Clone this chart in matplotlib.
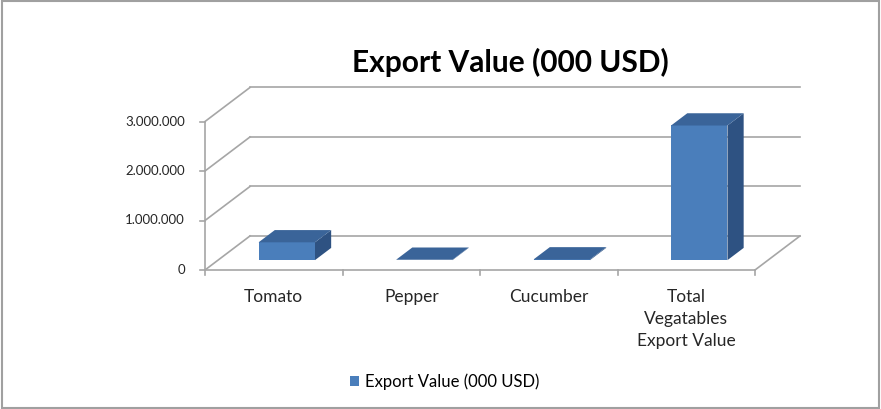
import matplotlib.pyplot as plt
from matplotlib.patches import Polygon, Rectangle

plt.rcParams["font.family"] = ["Lato", "DejaVu Sans"]

categories = ["Tomato", "Pepper", "Cucumber", "Total\nVegatables\nExport Value"]
export_value = [360000, 8000, 15000, 2720000]
y_ticks = [0, 1000000, 2000000, 3000000]
y_tick_labels = ["0", "1.000.000", "2.000.000", "3.000.000"]
series_name = "Export Value (000 USD)"

# oblique depth of the chart box, in data units
DX = 0.327
DY = 687000
D0, D1 = 0.29, 0.65     # depth range taken by the bars
BAR_W = 0.41

FRONT = "#4A7EBB"
TOP = "#3A6499"
SIDE = "#2E5282"
GRID = "#A6A6A6"
TEXT = "#262626"

fig = plt.figure(figsize=(8.81, 4.09), dpi=100)
ax = fig.add_axes([0, 0, 1, 1])
ax.set_xlim(-205 / 137.5, 676 / 137.5)
ax.set_ylim(-139 / 49.5e-6, 270 / 49.5e-6)
ax.axis("off")

n = len(categories)
ymax = y_ticks[-1]


def proj(x, y, d):
    return (x + d * DX, y + d * DY)


# walls and floor
for t in y_ticks:
    ax.plot([DX, n + DX], [t + DY, t + DY], color=GRID, lw=1.2, zorder=1)
    ax.plot([0, DX], [t, t + DY], color=GRID, lw=1.2, zorder=1)
ax.plot([n, n + DX], [0, DY], color=GRID, lw=1.2, zorder=1)

# axes lines and ticks
ax.plot([0, 0], [0, ymax], color=GRID, lw=1.2, zorder=2)
ax.plot([0, n], [0, 0], color=GRID, lw=1.2, zorder=2)
for t, lab in zip(y_ticks, y_tick_labels):
    ax.plot([-0.036, 0], [t, t], color=GRID, lw=1.2, zorder=2)
    ax.text(-0.145, t, lab, ha="right", va="center", fontsize=9.5, color=TEXT)
for i in range(n + 1):
    ax.plot([i, i], [0, -100000], color=GRID, lw=1.2, zorder=2)
for i, cat in enumerate(categories):
    ax.text(i + 0.5, -390000, cat, ha="center", va="top", fontsize=12.5,
            color=TEXT, linespacing=1.45)

# 3d columns: front face as bars, top and side faces as polygons
x0s = [i + 0.5 - BAR_W / 2 for i in range(n)]
bars = ax.bar([x + D0 * DX for x in x0s], export_value, width=BAR_W,
              bottom=D0 * DY, align="edge", color=FRONT, label=series_name,
              zorder=4)
for x0, v in zip(x0s, export_value):
    x1 = x0 + BAR_W
    top = [proj(x0, v, D0), proj(x1, v, D0), proj(x1, v, D1), proj(x0, v, D1)]
    side = [proj(x1, 0, D0), proj(x1, v, D0), proj(x1, v, D1), proj(x1, 0, D1)]
    ax.add_patch(Polygon(side, closed=True, facecolor=SIDE, edgecolor="none", zorder=3))
    ax.add_patch(Polygon(top, closed=True, facecolor=TOP, edgecolor="none", zorder=5))

fig.text(510 / 881, 1 - 62 / 409, "Export Value (000 USD)", ha="center", va="center",
         fontsize=21.5, fontweight="bold", color="black")

ax.legend(handles=[bars], loc="center", bbox_to_anchor=(445 / 881, 1 - 382 / 409),
          bbox_transform=fig.transFigure, frameon=False, fontsize=12,
          handlelength=0.55, handleheight=0.55, handletextpad=0.35)

fig.patches.append(Rectangle((0.002, 0.003), 0.996, 0.994, transform=fig.transFigure,
                             fill=False, edgecolor="#A0A0A0", lw=1.5))

fig.savefig("out.png", dpi=100)
